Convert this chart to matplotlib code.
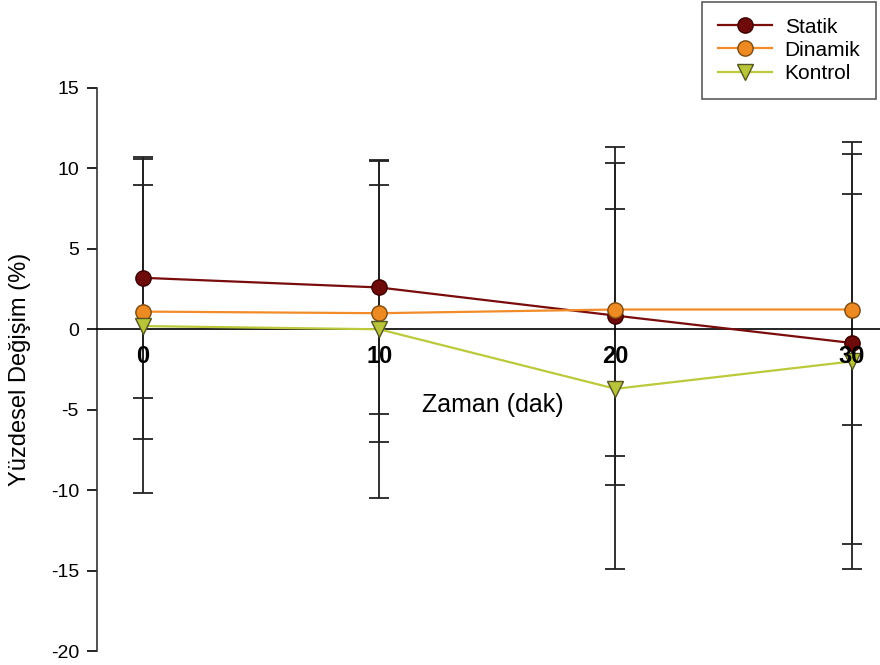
import matplotlib.pyplot as plt

plt.rcParams['font.family'] = ['Liberation Sans', 'DejaVu Sans']
plt.rcParams['axes.unicode_minus'] = False

# Zaman noktaları (dak)
zaman = [0, 10, 20, 30]

# Ortalama yüzdesel değişim ve standart sapmalar
statik = [3.2, 2.6, 0.85, -0.85]
statik_sd = [7.5, 7.85, 10.5, 12.5]
dinamik = [1.1, 1.0, 1.23, 1.23]
dinamik_sd = [7.9, 8.0, 9.13, 7.2]
kontrol = [0.2, 0.0, -3.7, -2.0]
kontrol_sd = [10.4, 10.5, 11.2, 12.9]

x_ticks = [0, 10, 20, 30]
y_ticks = [-20, -15, -10, -5, 0, 5, 10, 15]

fig = plt.figure(figsize=(8.8, 6.65), dpi=100)
ax = fig.add_axes([97 / 880, 14 / 665, 783 / 880, 563 / 665])

# error bars first, markers on top
for y, sd in [(statik, statik_sd), (dinamik, dinamik_sd), (kontrol, kontrol_sd)]:
    ax.errorbar(zaman, y, yerr=sd, fmt='none', ecolor='#222222',
                elinewidth=1.3, capsize=7, capthick=1.3, zorder=2)

ax.plot(zaman, statik, color='#7a0c0c', lw=1.6, marker='o', ms=11,
        mfc='#6e0a0a', mec='#3a0000', mew=1.0, label='Statik', zorder=4)
ax.plot(zaman, dinamik, color='#f28c28', lw=1.6, marker='o', ms=11,
        mfc='#ee8a22', mec='#7a4a10', mew=1.0, label='Dinamik', zorder=4)
ax.plot(zaman, kontrol, color='#bcc93a', lw=1.6, marker='v', ms=11,
        mfc='#b8c53a', mec='#555522', mew=1.0, label='Kontrol', zorder=4)

ax.set_xlim(-1.95, 31.2)
ax.set_ylim(-20, 15)

ax.spines['top'].set_visible(False)
ax.spines['right'].set_visible(False)
ax.spines['bottom'].set_position(('data', 0))
ax.spines['bottom'].set_linewidth(1.2)
ax.spines['left'].set_linewidth(1.2)
ax.spines['left'].set_color('#333333')

ax.set_xticks(x_ticks)
ax.set_xticklabels([str(t) for t in x_ticks], fontsize=17, fontweight='bold')
ax.tick_params(axis='x', length=0, pad=11)
ax.xaxis.set_zorder(5)  # bold time labels sit above the markers
ax.set_yticks(y_ticks)
ax.tick_params(axis='y', direction='out', length=7, width=1.2, labelsize=14, pad=6)

ax.text(14.8, -4.7, 'Zaman (dak)', fontsize=18, ha='center', va='center')
ax.set_ylabel('Yüzdesel Değişim (%)', fontsize=17, labelpad=14)

leg = fig.legend(loc='upper right', bbox_to_anchor=(876 / 880, 663 / 665),
                 fontsize=15, frameon=True, fancybox=False, edgecolor='#333333',
                 handlelength=2.6, borderpad=0.75, labelspacing=0.2,
                 handletextpad=0.6, borderaxespad=0)
leg.get_frame().set_linewidth(1.2)

fig.savefig('out.png', dpi=100)
